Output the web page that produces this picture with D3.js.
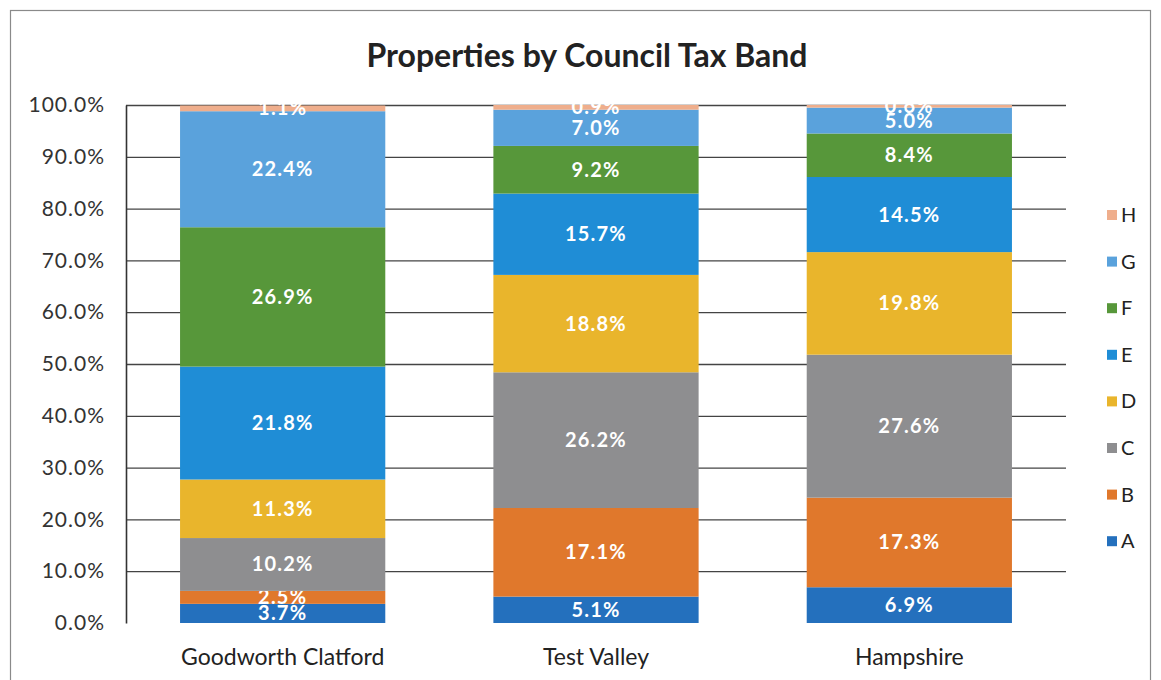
<!DOCTYPE html>
<html>
<head>
<meta charset="utf-8">
<script src="https://cdn.jsdelivr.net/npm/d3@7"></script>
<style>
  html, body { margin: 0; padding: 0; background: #fff; }
  svg { display: block; }
</style>
</head>
<body>
<svg id="chart" width="1161" height="680"></svg>
<script>
// Council tax bands, bottom to top of each stack
const bands = ["A", "B", "C", "D", "E", "F", "G", "H"];
const areas = ["Goodworth Clatford", "Test Valley", "Hampshire"];

// Share of properties (%) per band, one array per area
const goodworthClatford = [3.7, 2.5, 10.2, 11.3, 21.8, 26.9, 22.4, 1.1];
const testValley        = [5.1, 17.1, 26.2, 18.8, 15.7, 9.2, 7.0, 0.9];
const hampshire         = [6.9, 17.3, 27.6, 19.8, 14.5, 8.4, 5.0, 0.6];

const yTicks = [0, 10, 20, 30, 40, 50, 60, 70, 80, 90, 100];
const bandColors = ["#2470bd", "#e0782c", "#8e8e90", "#e9b52c", "#1f8dd6", "#57973a", "#5aa2dc", "#efae8c"];

const seriesByArea = [goodworthClatford, testValley, hampshire];
const rows = areas.map((area, i) => {
  const r = { area };
  bands.forEach((b, j) => { r[b] = seriesByArea[i][j]; });
  return r;
});

const svg = d3.select("#chart");
const font = "Lato, 'Open Sans', sans-serif";

// outer chart frame
svg.append("rect")
  .attr("x", 10.5).attr("y", 10.5)
  .attr("width", 1140).attr("height", 690)
  .attr("fill", "#fff").attr("stroke", "#8a8a8a").attr("stroke-width", 1.2);

svg.append("text")
  .attr("x", 587).attr("y", 67)
  .attr("text-anchor", "middle")
  .attr("font-family", font).attr("font-weight", "bold")
  .attr("font-size", 32).attr("fill", "#222")
  .text("Properties by Council Tax Band");

const plot = { left: 126, right: 1066, top: 105, bottom: 623 };

const x = d3.scaleBand().domain(areas)
  .range([plot.left, plot.right]).paddingInner(0.345).paddingOuter(0.1725);
const y = d3.scaleLinear().domain([0, 100]).range([plot.bottom, plot.top]);

// horizontal gridlines
svg.append("g").selectAll("line")
  .data(yTicks.filter(t => t > 0))
  .join("line")
  .attr("x1", plot.left).attr("x2", plot.right)
  .attr("y1", d => y(d) + 0.5).attr("y2", d => y(d) + 0.5)
  .attr("stroke", "#444").attr("stroke-width", 1.3);

// y axis
const yAxis = svg.append("g")
  .attr("transform", `translate(${plot.left},0)`)
  .call(d3.axisLeft(y).tickValues(yTicks).tickSize(0).tickPadding(21)
    .tickFormat(d => d.toFixed(1) + "%"));
yAxis.select(".domain").attr("stroke", "#333").attr("stroke-width", 1.6);
yAxis.selectAll("text")
  .attr("font-family", font).attr("font-size", 21)
  .attr("letter-spacing", 1).attr("fill", "#333");

// stacked bars
const stacked = d3.stack().keys(bands)(rows);
const layers = svg.append("g").selectAll("g")
  .data(stacked)
  .join("g")
  .attr("fill", (d, i) => bandColors[i]);

layers.selectAll("rect")
  .data(d => d)
  .join("rect")
  .attr("x", d => x(d.data.area))
  .attr("width", x.bandwidth())
  .attr("y", d => y(Math.min(d[1], 100)))
  .attr("height", d => y(d[0]) - y(Math.min(d[1], 100)));

// value labels centred in each segment
layers.selectAll("text")
  .data(d => d.map(v => ({ v, key: d.key })))
  .join("text")
  .attr("x", d => x(d.v.data.area) + x.bandwidth() / 2)
  .attr("y", d => y((d.v[0] + Math.min(d.v[1], 100)) / 2) + 7)
  .attr("text-anchor", "middle")
  .attr("font-family", font).attr("font-weight", "bold")
  .attr("font-size", 20).attr("letter-spacing", 1.2).attr("fill", "#fff")
  .text(d => d.v.data[d.key].toFixed(1) + "%");

// category axis labels
svg.append("g").selectAll("text")
  .data(areas)
  .join("text")
  .attr("x", d => x(d) + x.bandwidth() / 2)
  .attr("y", 665)
  .attr("text-anchor", "middle")
  .attr("font-family", font).attr("font-size", 23).attr("fill", "#222")
  .text(d => d);

// legend, H at the top down to A
const legendBands = bands.slice().reverse();
const legend = svg.append("g").selectAll("g")
  .data(legendBands)
  .join("g")
  .attr("transform", (d, i) => `translate(1107, ${215 + i * 46.6})`);
legend.append("rect")
  .attr("x", 0).attr("y", -5).attr("width", 10).attr("height", 10)
  .attr("fill", d => bandColors[bands.indexOf(d)]);
legend.append("text")
  .attr("x", 14).attr("y", 7)
  .attr("font-family", font).attr("font-size", 20).attr("fill", "#222")
  .text(d => d);
</script>
</body>
</html>
